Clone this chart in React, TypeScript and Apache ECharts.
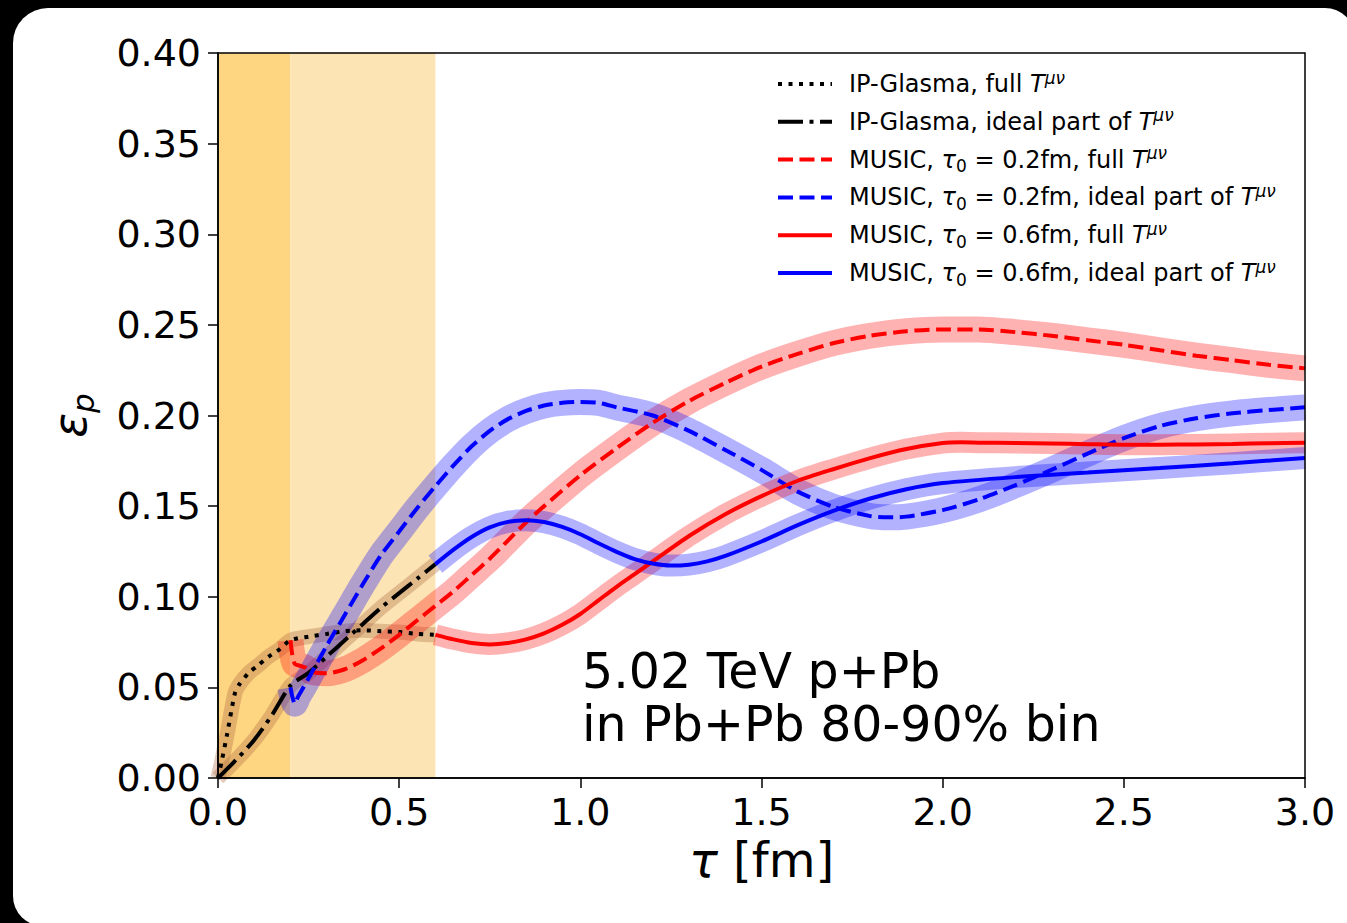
import React, { useEffect, useRef } from "react";
import * as echarts from "echarts";

// ---------- data ----------
const shadeBounds = [0, 0.2, 0.6];

const tauGlasmaFull = [0, 0.01, 0.025, 0.047, 0.06, 0.085, 0.11, 0.14, 0.17, 0.2, 0.25, 0.3, 0.35, 0.4, 0.45, 0.5, 0.55, 0.6];
const epsGlasmaFull = [0, 0.009, 0.024, 0.047, 0.052, 0.058, 0.062, 0.067, 0.071, 0.076, 0.078, 0.0795, 0.081, 0.0815, 0.081, 0.0805, 0.0795, 0.079];

const tauGlasmaIdeal = [0, 0.05, 0.1, 0.15, 0.2, 0.25, 0.3, 0.35, 0.4, 0.45, 0.5, 0.55, 0.6];
const epsGlasmaIdeal = [0, 0.01, 0.021, 0.035, 0.051, 0.058, 0.067, 0.076, 0.085, 0.094, 0.102, 0.11, 0.118];

const tauMusic02Full = [0.2, 0.205, 0.212, 0.225, 0.24, 0.26, 0.3, 0.35, 0.4, 0.45, 0.5, 0.55, 0.6, 0.65, 0.7, 0.75, 0.8, 0.85, 0.9, 1.0, 1.1, 1.2, 1.3, 1.4, 1.5, 1.6, 1.7, 1.8, 1.9, 2.0, 2.1, 2.2, 2.3, 2.4, 2.5, 2.6, 2.7, 2.8, 2.9, 3.0];
const epsMusic02Full = [0.076, 0.068, 0.063, 0.062, 0.061, 0.0585, 0.0578, 0.06, 0.065, 0.0715, 0.079, 0.087, 0.095, 0.103, 0.112, 0.121, 0.131, 0.141, 0.15, 0.167, 0.182, 0.196, 0.208, 0.218, 0.227, 0.234, 0.24, 0.244, 0.2465, 0.2475, 0.2475, 0.246, 0.244, 0.2415, 0.239, 0.236, 0.233, 0.2305, 0.228, 0.226];

const tauMusic02Ideal = [0.2, 0.205, 0.212, 0.22, 0.23, 0.25, 0.3, 0.35, 0.4, 0.45, 0.5, 0.55, 0.6, 0.65, 0.7, 0.75, 0.8, 0.85, 0.9, 0.95, 1.0, 1.05, 1.1, 1.2, 1.3, 1.4, 1.5, 1.6, 1.7, 1.8, 1.85, 1.9, 2.0, 2.1, 2.2, 2.3, 2.4, 2.5, 2.6, 2.7, 2.8, 2.9, 3.0];
const epsMusic02Ideal = [0.05, 0.045, 0.041, 0.0445, 0.048, 0.055, 0.073, 0.09, 0.107, 0.123, 0.136, 0.149, 0.161, 0.1725, 0.183, 0.1915, 0.198, 0.2025, 0.2055, 0.207, 0.2075, 0.207, 0.2045, 0.2, 0.1915, 0.181, 0.17, 0.158, 0.1495, 0.1445, 0.1438, 0.1442, 0.1478, 0.1537, 0.1615, 0.17, 0.179, 0.1875, 0.1942, 0.1985, 0.2012, 0.203, 0.2045];

const tauMusic06Full = [0.6, 0.65, 0.7, 0.75, 0.8, 0.85, 0.9, 0.95, 1.0, 1.05, 1.1, 1.15, 1.2, 1.3, 1.4, 1.5, 1.6, 1.7, 1.8, 1.9, 2.0, 2.05, 2.1, 2.2, 2.3, 2.4, 2.5, 2.6, 2.7, 2.8, 2.9, 3.0];
const epsMusic06Full = [0.079, 0.0765, 0.0745, 0.0737, 0.0745, 0.0765, 0.0798, 0.0845, 0.0905, 0.098, 0.1055, 0.1125, 0.1195, 0.1335, 0.1455, 0.1555, 0.164, 0.1705, 0.1765, 0.1815, 0.1848, 0.1852, 0.185, 0.1848, 0.1845, 0.1842, 0.1839, 0.1839, 0.184, 0.1843, 0.1847, 0.185];

const tauMusic06Ideal = [0.6, 0.65, 0.7, 0.75, 0.8, 0.85, 0.9, 0.95, 1.0, 1.05, 1.1, 1.15, 1.2, 1.25, 1.3, 1.35, 1.4, 1.5, 1.6, 1.7, 1.8, 1.9, 2.0, 2.2, 2.4, 2.6, 2.8, 3.0];
const epsMusic06Ideal = [0.118, 0.126, 0.133, 0.1383, 0.1413, 0.1422, 0.1412, 0.1385, 0.1345, 0.1295, 0.1248, 0.1208, 0.1183, 0.1172, 0.1177, 0.1195, 0.1225, 0.1305, 0.1395, 0.1475, 0.1542, 0.1593, 0.1627, 0.166, 0.1685, 0.171, 0.1737, 0.1765];

const legendRich = [
  "IP-Glasma, full {it|T}{sup|μν}",
  "IP-Glasma, ideal part of {it|T}{sup|μν}",
  "MUSIC, {it|τ}{sub|0} = 0.2fm, full {it|T}{sup|μν}",
  "MUSIC, {it|τ}{sub|0} = 0.2fm, ideal part of {it|T}{sup|μν}",
  "MUSIC, {it|τ}{sub|0} = 0.6fm, full {it|T}{sup|μν}",
  "MUSIC, {it|τ}{sub|0} = 0.6fm, ideal part of {it|T}{sup|μν}",
];
const seriesNames = [
  "IP-Glasma, full Tμν",
  "IP-Glasma, ideal part of Tμν",
  "MUSIC, τ0 = 0.2fm, full Tμν",
  "MUSIC, τ0 = 0.2fm, ideal part of Tμν",
  "MUSIC, τ0 = 0.6fm, full Tμν",
  "MUSIC, τ0 = 0.6fm, ideal part of Tμν",
];
const annotation = "5.02 TeV p+Pb\nin Pb+Pb 80-90% bin";

const FONT = "DejaVu Sans";

function zip(t: number[], e: number[]) {
  return t.map((v, i) => [v, e[i]]);
}

export default function App() {
  const ref = useRef<HTMLDivElement>(null);
  useEffect(() => {
    if (!ref.current) return;
    const chart = echarts.init(ref.current, undefined, { renderer: "svg" });

    const glasmaBand = "rgba(170,100,60,0.33)";
    const curves = [
      { t: tauGlasmaFull, e: epsGlasmaFull, color: "#000", dash: [4, 6.5], band: glasmaBand, bw: 15 },
      { t: tauGlasmaIdeal, e: epsGlasmaIdeal, color: "#000", dash: [25, 6.5, 4, 6.5], band: glasmaBand, bw: 15 },
      { t: tauMusic02Full, e: epsMusic02Full, color: "#ff0000", dash: [15, 6.5], band: "rgba(255,0,0,0.3)", bw: 26 },
      { t: tauMusic02Ideal, e: epsMusic02Ideal, color: "#0000ff", dash: [15, 6.5], band: "rgba(0,0,255,0.3)", bw: 26 },
      { t: tauMusic06Full, e: epsMusic06Full, color: "#ff0000", dash: "solid", band: "rgba(255,0,0,0.3)", bw: 21 },
      { t: tauMusic06Ideal, e: epsMusic06Ideal, color: "#0000ff", dash: "solid", band: "rgba(0,0,255,0.3)", bw: 22 },
    ];

    const series: any[] = [
      {
        type: "line",
        name: "shade",
        data: [],
        z: 1,
        silent: true,
        markArea: {
          silent: true,
          data: [
            [{ xAxis: shadeBounds[0], itemStyle: { color: "#FED580" } }, { xAxis: shadeBounds[1] }],
            [{ xAxis: shadeBounds[1], itemStyle: { color: "#FDE4B4" } }, { xAxis: shadeBounds[2] }],
          ],
        },
      },
    ];
    curves.forEach((c, i) => {
      series.push({
        type: "line",
        name: "band" + i,
        data: zip(c.t, c.e),
        symbol: "none",
        smooth: 0.25,
        silent: true,
        z: 2,
        lineStyle: { color: c.band, width: c.bw, cap: "butt", join: "round" },
      });
    });
    curves.forEach((c, i) => {
      series.push({
        type: "line",
        name: seriesNames[i],
        data: zip(c.t, c.e),
        symbol: "none",
        smooth: 0.25,
        z: 3,
        color: c.color,
        lineStyle: { color: c.color, width: 4, type: c.dash as any, cap: "butt" },
      });
    });

    // legend drawn with graphic elements
    const legX = 778;
    const legW = 54;
    const legY0 = 84;
    const legStep = 37.8;
    const legendElems: any[] = [];
    curves.forEach((c, i) => {
      const y = legY0 + i * legStep;
      legendElems.push({
        type: "line",
        z: 100,
        silent: true,
        shape: { x1: legX, y1: y, x2: legX + legW, y2: y },
        style: {
          stroke: c.color,
          lineWidth: 4,
          lineDash: c.dash === "solid" ? null : c.dash,
          lineCap: "butt",
        },
      });
      legendElems.push({
        type: "text",
        z: 100,
        silent: true,
        x: 849,
        y: y,
        style: {
          text: legendRich[i],
          fontFamily: FONT,
          fontSize: 24,
          fill: "#000",
          verticalAlign: "middle",
          align: "left",
          rich: {
            it: { fontFamily: FONT, fontSize: 24, fontStyle: "italic", fill: "#000", lineHeight: 30 },
            sup: { fontFamily: FONT, fontSize: 17, fontStyle: "italic", fill: "#000", verticalAlign: "top", lineHeight: 17 },
            sub: { fontFamily: FONT, fontSize: 17, fill: "#000", verticalAlign: "bottom", lineHeight: 17 },
          },
        },
      });
    });

    const option: any = {
      animation: false,
      backgroundColor: "transparent",
      textStyle: { fontFamily: FONT },
      grid: {
        left: 218, right: 42, top: 53, bottom: 145,
        show: true, borderColor: "#000", borderWidth: 1.5, backgroundColor: "transparent", z: 10,
      },
      xAxis: {
        type: "value",
        min: 0,
        max: 3,
        interval: 0.5,
        z: 10,
        splitLine: { show: false },
        axisLine: { show: true, onZero: false, lineStyle: { color: "#000", width: 1.5 } },
        axisTick: { show: true, length: 10, lineStyle: { color: "#000", width: 1.5 } },
        axisLabel: { fontFamily: FONT, fontSize: 38, color: "#000", margin: 15, formatter: (v: number) => v.toFixed(1) },
        name: "{it|τ} [fm]",
        nameLocation: "middle",
        nameGap: 57,
        nameTextStyle: {
          fontFamily: FONT, fontSize: 48, color: "#000",
          rich: { it: { fontFamily: FONT, fontSize: 48, fontStyle: "italic", color: "#000" } },
        },
      },
      yAxis: {
        type: "value",
        min: 0,
        max: 0.4,
        interval: 0.05,
        z: 10,
        splitLine: { show: false },
        axisLine: { show: true, onZero: false, lineStyle: { color: "#000", width: 1.5 } },
        axisTick: { show: true, length: 10, lineStyle: { color: "#000", width: 1.5 } },
        axisLabel: { fontFamily: FONT, fontSize: 38, color: "#000", margin: 17, formatter: (v: number) => v.toFixed(2) },
        name: "{e|ε}{p|p}",
        nameLocation: "middle",
        nameRotate: 90,
        nameGap: 120,
        nameTextStyle: {
          fontFamily: FONT, fontSize: 46, color: "#000",
          rich: {
            e: { fontFamily: FONT, fontSize: 46, fontStyle: "italic", color: "#000", lineHeight: 56 },
            p: { fontFamily: FONT, fontSize: 31, fontStyle: "italic", color: "#000", verticalAlign: "bottom", lineHeight: 31 },
          },
        },
      },
      graphic: [
        {
          type: "text",
          left: 582,
          top: 645,
          z: 100,
          style: { text: annotation, fontFamily: FONT, fontSize: 49, lineHeight: 53, fill: "#000" },
        },
        ...legendElems,
      ],
      series,
    };
    chart.setOption(option);
    return () => chart.dispose();
  }, []);

  return (
    <div style={{ position: "fixed", left: 0, top: 0, width: 1347, height: 923, background: "#000", overflow: "hidden" }}>
      <div
        style={{
          position: "absolute", left: 13, top: 8, width: 1342, height: 918,
          background: "#fff", borderRadius: "35px 30px 0 30px",
        }}
      />
      <div ref={ref} style={{ position: "absolute", left: 0, top: 0, width: 1347, height: 923 }} />
    </div>
  );
}
